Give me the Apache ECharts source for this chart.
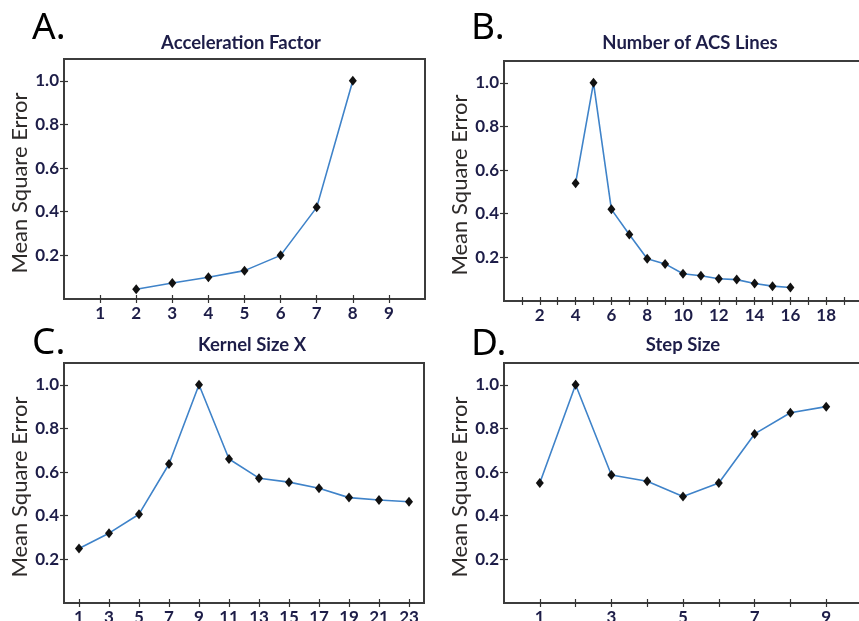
<!DOCTYPE html>
<html>
<head>
<meta charset="utf-8">
<title>Mean Square Error vs. reconstruction parameters</title>
<script src="https://cdn.jsdelivr.net/npm/echarts@6/dist/echarts.min.js"></script>
<style>
  html, body { margin: 0; padding: 0; background: #fff; }
  #chart { width: 859px; height: 621px; }
</style>
</head>
<body>
<div id="chart"></div>
<script>
// Panel A: acceleration factor
const accelFactor = [2, 3, 4, 5, 6, 7, 8];
const accelMSE = [0.045, 0.073, 0.10, 0.13, 0.20, 0.42, 1.0];

// Panel B: number of ACS lines
const acsLines = [4, 5, 6, 7, 8, 9, 10, 11, 12, 13, 14, 15, 16];
const acsMSE = [0.54, 1.0, 0.42, 0.305, 0.194, 0.17, 0.125, 0.116, 0.102, 0.098, 0.08, 0.068, 0.062];

// Panel C: kernel size X
const kernelSize = [1, 3, 5, 7, 9, 11, 13, 15, 17, 19, 21, 23];
const kernelMSE = [0.25, 0.32, 0.407, 0.637, 1.0, 0.66, 0.572, 0.554, 0.526, 0.483, 0.472, 0.464];

// Panel D: step size
const stepSize = [1, 2, 3, 4, 5, 6, 7, 8, 9];
const stepMSE = [0.55, 1.0, 0.587, 0.558, 0.488, 0.55, 0.775, 0.872, 0.9];

// Tick labels
const yTickLabels = [0.2, 0.4, 0.6, 0.8, 1.0];
const xLabelsA = [1, 2, 3, 4, 5, 6, 7, 8, 9];
const xLabelsB = [2, 4, 6, 8, 10, 12, 14, 16, 18];
const xLabelsC = [1, 3, 5, 7, 9, 11, 13, 15, 17, 19, 21, 23];
const xLabelsD = [1, 3, 5, 7, 9];

const xTicksA = [1, 2, 3, 4, 5, 6, 7, 8, 9];
const xTicksB = [1, 2, 3, 4, 5, 6, 7, 8, 9, 10, 11, 12, 13, 14, 15, 16, 17, 18, 19];
const xTicksC = xLabelsC;
const xTicksD = [1, 2, 3, 4, 5, 6, 7, 8, 9];

const panelLetters = ['A.', 'B.', 'C.', 'D.'];
const panelTitles = ['Acceleration Factor', 'Number of ACS Lines', 'Kernel Size X', 'Step Size'];
const yName = 'Mean Square Error';

const LABEL_COLOR = '#1d1d48';
const FRAME_COLOR = '#3c3c3c';
const LINE_COLOR = '#3f83c9';

const panels = [
  { grid: { left: 64, top: 59, width: 361, height: 240 }, xMax: 10, xLabels: xLabelsA, xTicks: xTicksA, x: accelFactor, y: accelMSE },
  { grid: { left: 504, top: 61, width: 358, height: 240 }, xMax: 20, xLabels: xLabelsB, xTicks: xTicksB, x: acsLines, y: acsMSE },
  { grid: { left: 64, top: 363, width: 360, height: 240 }, xMax: 24, xLabels: xLabelsC, xTicks: xTicksC, x: kernelSize, y: kernelMSE },
  { grid: { left: 504, top: 363, width: 358, height: 240 }, xMax: 10, xLabels: xLabelsD, xTicks: xTicksD, x: stepSize, y: stepMSE }
];

const grids = [], xAxes = [], yAxes = [], series = [];
const tickStyle = { show: true, inside: true, length: 4, lineStyle: { color: '#333', width: 1.2 } };

panels.forEach((p, i) => {
  grids.push(Object.assign({
    show: true, borderColor: FRAME_COLOR, borderWidth: 2, backgroundColor: 'transparent',
    outerBoundsMode: 'none', containLabel: false
  }, p.grid));

  // bottom axis with labels
  xAxes.push({
    type: 'value', gridIndex: i, position: 'bottom', min: 0, max: p.xMax,
    axisLine: { show: false }, splitLine: { show: false },
    axisTick: Object.assign({ customValues: p.xTicks }, tickStyle),
    axisLabel: {
      customValues: p.xLabels, margin: 6,
      color: LABEL_COLOR, fontFamily: 'Lato', fontWeight: 'bold', fontSize: 17,
      formatter: v => (p.xLabels.indexOf(v) >= 0 ? String(v) : '')
    }
  });
  // top axis: ticks only
  xAxes.push({
    type: 'value', gridIndex: i, position: 'top', min: 0, max: p.xMax,
    axisLine: { show: false }, splitLine: { show: false },
    axisTick: Object.assign({ customValues: p.xTicks }, tickStyle),
    axisLabel: { show: false }
  });
  // left axis with labels
  yAxes.push({
    type: 'value', gridIndex: i, position: 'left', min: 0, max: 1.1,
    axisLine: { show: false }, splitLine: { show: false },
    axisTick: Object.assign({ customValues: yTickLabels }, tickStyle),
    axisLabel: {
      customValues: yTickLabels, margin: 5,
      color: LABEL_COLOR, fontFamily: 'Lato', fontWeight: 'bold', fontSize: 17,
      formatter: v => (yTickLabels.some(t => Math.abs(t - v) < 1e-6) ? v.toFixed(1) : '')
    }
  });
  // right axis: ticks only
  yAxes.push({
    type: 'value', gridIndex: i, position: 'right', min: 0, max: 1.1,
    axisLine: { show: false }, splitLine: { show: false },
    axisTick: Object.assign({ customValues: yTickLabels }, tickStyle),
    axisLabel: { show: false }
  });

  series.push({
    type: 'line',
    xAxisIndex: i * 2, yAxisIndex: i * 2,
    data: p.x.map((xv, k) => [xv, p.y[k]]),
    lineStyle: { color: LINE_COLOR, width: 1.6 },
    itemStyle: { color: '#111' },
    symbol: 'diamond', symbolSize: [8, 10],
    z: 3
  });
});

// Panel letters, titles and y-axis names
const letterPos = [[32, 10], [471, 10], [32, 325], [471, 326]];
const titlePos = [[241, 34], [690, 34], [252, 336], [683, 336]];
const graphics = [];
panels.forEach((p, i) => {
  graphics.push({
    type: 'text', left: letterPos[i][0], top: letterPos[i][1],
    style: { text: panelLetters[i], font: '37px "Noto Sans"', fill: '#000' }
  });
  graphics.push({
    type: 'text', x: titlePos[i][0], y: titlePos[i][1],
    style: { text: panelTitles[i], font: 'bold 18.5px Lato', fill: LABEL_COLOR, textAlign: 'center', textVerticalAlign: 'top' }
  });
  graphics.push({
    type: 'text', x: p.grid.left - 44, y: p.grid.top + 124, rotation: Math.PI / 2,
    style: { text: yName, font: '22px Lato', fill: '#2e2b2a', textAlign: 'center', textVerticalAlign: 'middle' }
  });
});

const chart = echarts.init(document.getElementById('chart'), null, { renderer: 'canvas' });
chart.setOption({
  animation: false,
  backgroundColor: '#fff',
  grid: grids,
  xAxis: xAxes,
  yAxis: yAxes,
  series: series,
  graphic: graphics
});
</script>
</body>
</html>
